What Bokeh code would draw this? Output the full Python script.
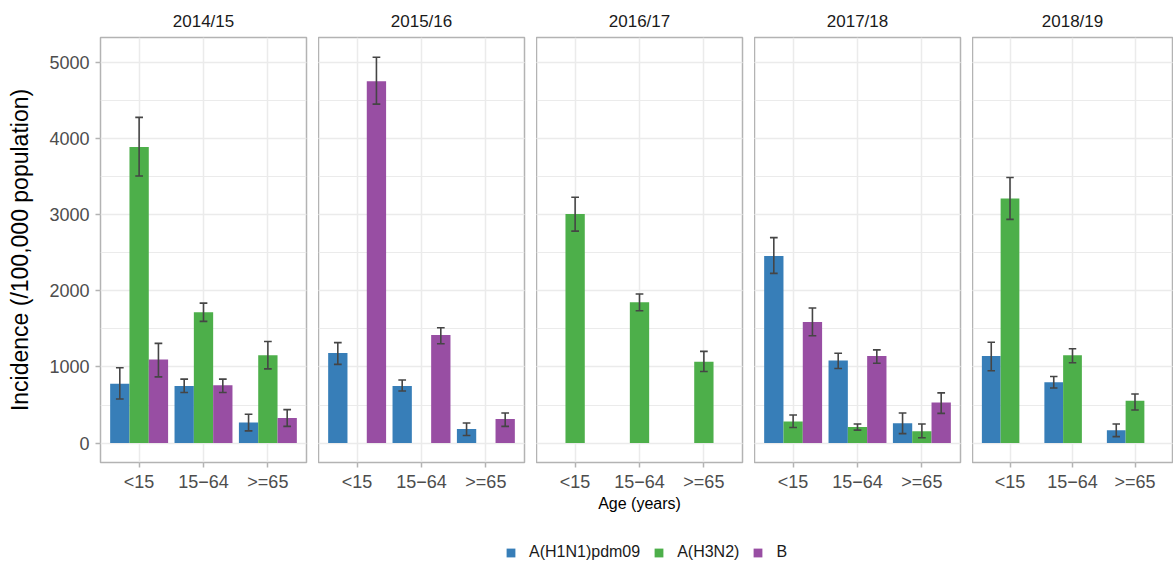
from bokeh.plotting import figure
from bokeh.models import (ColumnDataSource, FactorRange, Range1d, SingleIntervalTicker,
                          Grid, Legend, LegendItem)
from bokeh.transform import dodge
from bokeh.layouts import row, column
from bokeh.embed import file_html
from bokeh.resources import INLINE

# ---------------- data ----------------
seasons = ["2014/15", "2015/16", "2016/17", "2017/18", "2018/19"]
ages = ["<15", "15\u221264", ">=65"]
subtypes = ["A(H1N1)pdm09", "A(H3N2)", "B"]
colors = ["#377EB8", "#4DAF4A", "#984EA3"]

h1n1_inc = [[780, 750, 270], [1185, 750, 185], [None, None, None], [2460, 1085, 260], [1145, 800, 170]]
h1n1_lo = [[580, 665, 160], [1035, 685, 100], [None, None, None], [2230, 980, 125], [950, 725, 85]]
h1n1_hi = [[990, 840, 380], [1320, 830, 265], [None, None, None], [2700, 1180, 395], [1325, 875, 250]]

h3n2_inc = [[3890, 1720, 1155], [None, None, None], [3010, 1850, 1070], [285, 210, 155], [3215, 1155, 555]]
h3n2_lo = [[3510, 1600, 975], [None, None, None], [2785, 1740, 940], [205, 170, 70], [2940, 1055, 435]]
h3n2_hi = [[4280, 1840, 1335], [None, None, None], [3230, 1960, 1205], [370, 250, 250], [3490, 1240, 645]]

b_inc = [[1100, 760, 330], [4755, 1420, 315], [None, None, None], [1590, 1145, 535], [None, None, None]]
b_lo = [[870, 665, 220], [4455, 1305, 220], [None, None, None], [1410, 1050, 390], [None, None, None]]
b_hi = [[1310, 840, 440], [5070, 1515, 395], [None, None, None], [1775, 1225, 660], [None, None, None]]

series = [(h1n1_inc, h1n1_lo, h1n1_hi), (h3n2_inc, h3n2_lo, h3n2_hi), (b_inc, b_lo, b_hi)]
offsets = [-0.3, 0.0, 0.3]

# ---------------- style ----------------
FONT = "Liberation Sans"
GRID = "#ebebeb"
BORDER = "#b3b3b3"
TICKTXT = "#4d4d4d"
ERR = "#454545"

figs = []
n = len(seasons)
for i, season in enumerate(seasons):
    first = i == 0
    last = i == n - 1
    p = figure(
        x_range=FactorRange(factors=ages, range_padding=0.2 / 3, range_padding_units="percent"),
        y_range=Range1d(-255, 5330),
        frame_width=200 if last else 206, frame_height=425,
        min_border_left=100 if first else 0,
        min_border_right=1 if last else 12,
        min_border_top=37, min_border_bottom=68,
        y_axis_location="left" if first else None,
        toolbar_location=None, output_backend="svg", title=season,
    )
    p.background_fill_color = "white"
    p.border_fill_color = "white"
    p.outline_line_color = BORDER
    p.outline_line_width = 1.5

    p.title.align = "center"
    p.title.text_font = FONT
    p.title.text_font_size = "17px"
    p.title.text_font_style = "normal"
    p.title.text_color = "#1a1a1a"
    p.title.standoff = 13

    ticker = SingleIntervalTicker(interval=1000, num_minor_ticks=2)
    if first:
        ax = p.yaxis[0]
        ax.ticker = ticker
        ax.axis_line_color = None
        ax.major_tick_line_color = BORDER
        ax.major_tick_line_width = 1.5
        ax.major_tick_out = 5
        ax.major_tick_in = 0
        ax.minor_tick_line_color = None
        ax.major_label_text_font = FONT
        ax.major_label_text_font_size = "18px"
        ax.major_label_text_color = TICKTXT
        ax.major_label_standoff = 6
        ax.axis_label = "Incidence (/100,000 population)"
        ax.axis_label_text_font = FONT
        ax.axis_label_text_font_size = "23px"
        ax.axis_label_text_font_style = "normal"
        ax.axis_label_text_color = "#000000"
        ax.axis_label_standoff = 13
        yg = p.ygrid[0]
    else:
        yg = Grid(dimension=1, ticker=ticker)
        p.add_layout(yg)
    yg.grid_line_color = GRID
    yg.grid_line_width = 1.5
    yg.minor_grid_line_color = GRID
    yg.minor_grid_line_width = 1
    yg.level = "underlay"

    xg = p.xgrid[0]
    xg.grid_line_color = GRID
    xg.grid_line_width = 1.5

    xa = p.xaxis[0]
    xa.axis_line_color = None
    xa.major_tick_line_color = BORDER
    xa.major_tick_line_width = 1.5
    xa.major_tick_out = 5
    xa.major_tick_in = 0
    xa.minor_tick_line_color = None
    xa.major_label_text_font = FONT
    xa.major_label_text_font_size = "18px"
    xa.major_label_text_color = TICKTXT
    xa.major_label_standoff = 4
    if i == 2:
        xa.axis_label = "Age (years)"
        xa.axis_label_text_font = FONT
        xa.axis_label_text_font_size = "16px"
        xa.axis_label_text_font_style = "normal"
        xa.axis_label_text_color = "#000000"
        xa.axis_label_standoff = 0

    for (inc, lo, hi), off, col in zip(series, offsets, colors):
        rows = [(a, v, l, h) for a, v, l, h in zip(ages, inc[i], lo[i], hi[i]) if v is not None]
        if not rows:
            continue
        src = ColumnDataSource(dict(
            age=[r[0] for r in rows], val=[r[1] for r in rows],
            lo=[r[2] for r in rows], hi=[r[3] for r in rows]))
        p.vbar(x=dodge("age", off, range=p.x_range), top="val", bottom=0, width=0.3,
               source=src, fill_color=col, line_color=None)
        p.segment(x0=dodge("age", off, range=p.x_range), y0="lo",
                  x1=dodge("age", off, range=p.x_range), y1="hi",
                  source=src, line_color=ERR, line_width=1.6)
        for yk in ("lo", "hi"):
            p.segment(x0=dodge("age", off - 0.06, range=p.x_range), y0=yk,
                      x1=dodge("age", off + 0.06, range=p.x_range), y1=yk,
                      source=src, line_color=ERR, line_width=1.6)
    figs.append(p)

# ---------------- legend ----------------
lg = figure(width=1173, height=32, x_range=Range1d(0, 1), y_range=Range1d(0, 1),
            x_axis_location=None, y_axis_location=None, toolbar_location=None,
            output_backend="svg", min_border=0, outline_line_color=None)
lg.xgrid.visible = False
lg.ygrid.visible = False
items = []
for name, col in zip(subtypes, colors):
    # legend key only; the point lies outside the (hidden) plotting range
    r = lg.vbar(x=[5], top=[5], bottom=[4], width=0.1, fill_color=col, line_color=None)
    items.append(LegendItem(label=name, renderers=[r]))
legend = Legend(items=items, orientation="horizontal", location=(505, 1),
                label_text_font=FONT, label_text_font_size="16px", label_text_color="#1a1a1a",
                glyph_width=11, glyph_height=11, label_standoff=13, spacing=13,
                padding=0, margin=0, border_line_color=None, background_fill_alpha=0)
lg.add_layout(legend)

layout = column(row(*figs), lg)
open("out.html", "w").write(file_html(layout, INLINE))
